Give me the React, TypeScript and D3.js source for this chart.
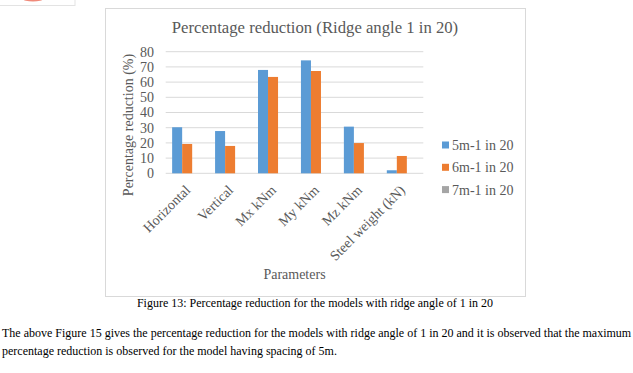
import React from "react";
import * as d3 from "d3";

const categories = ["Horizontal", "Vertical", "Mx kNm", "My kNm", "Mz kNm", "Steel weight (kN)"];
const seriesNames = ["5m-1 in 20", "6m-1 in 20", "7m-1 in 20"];
const values5m = [30.3, 27.8, 68.0, 74.3, 30.7, 2.0];
const values6m = [19.3, 18.0, 63.4, 67.3, 19.9, 11.4];
const values7m = [0, 0, 0, 0, 0, 0];
const yTicks = [0, 10, 20, 30, 40, 50, 60, 70, 80];

const colors = ["#5b9bd5", "#ed7d31", "#a5a5a5"];
const textColor = "#595959";
const font = "'Liberation Serif', 'Times New Roman', serif";

export default function App() {
  const series = [values5m, values6m, values7m];

  const plot = { left: 165.7, right: 423.3, top: 51.7, bottom: 173.3 };

  const x = d3
    .scaleBand<string>()
    .domain(categories)
    .range([plot.left, plot.right])
    .paddingInner(0.3)
    .paddingOuter(0.15);

  const x1 = d3
    .scaleBand<string>()
    .domain(seriesNames)
    .range([0, x.bandwidth()]);

  const y = d3.scaleLinear().domain([0, 80]).range([plot.bottom, plot.top]);

  return (
    <svg
      width={633}
      height={373}
      style={{ position: "absolute", left: 0, top: 0, background: "#fff" }}
      fontFamily={font}
    >
      {/* clipped logo box in the page corner */}
      <rect x={-1} y={-1} width={76} height={6.5} fill="#fff" stroke="#e3e3e3" />
      <ellipse cx={33} cy={-1} rx={10} ry={2.5} fill="#f08a7a" />

      {/* chart frame */}
      <rect x={105.5} y={8.5} width={420} height={288} fill="#fff" stroke="#d9d9d9" />

      <text x={315} y={33} textAnchor="middle" fontSize={16.7} fill={textColor}>
        Percentage reduction (Ridge angle 1 in 20)
      </text>

      {yTicks.map((t) => (
        <g key={t}>
          <line
            x1={plot.left}
            x2={plot.right}
            y1={y(t)}
            y2={y(t)}
            stroke="#d9d9d9"
            strokeWidth={1}
          />
          <text x={154} y={y(t) + 4.8} textAnchor="end" fontSize={14} fill={textColor}>
            {t}
          </text>
        </g>
      ))}

      {categories.map((c, i) => (
        <g key={c}>
          {series.map((vals, s) => (
            <rect
              key={s}
              x={(x(c) as number) + (x1(seriesNames[s]) as number)}
              y={y(vals[i])}
              width={x1.bandwidth()}
              height={plot.bottom - y(vals[i])}
              fill={colors[s]}
            />
          ))}
        </g>
      ))}

      {categories.map((c) => {
        const cx = (x(c) as number) + x.bandwidth() / 2 + 4;
        const cy = 191;
        return (
          <text
            key={c}
            x={cx}
            y={cy}
            textAnchor="end"
            fontSize={14}
            fill={textColor}
            transform={`rotate(-45, ${cx}, ${cy})`}
          >
            {c}
          </text>
        );
      })}

      <text
        x={0}
        y={0}
        textAnchor="middle"
        fontSize={14}
        fill={textColor}
        transform={`translate(133, 125) rotate(-90)`}
      >
        Percentage reduction (%)
      </text>

      <text x={294.5} y={279} textAnchor="middle" fontSize={14} fill={textColor}>
        Parameters
      </text>

      {seriesNames.map((n, i) => (
        <g key={n}>
          <rect x={442} y={141.5 + i * 22.3} width={7} height={7} fill={colors[i]} />
          <text x={452} y={150 + i * 22.3} fontSize={14} fill={textColor}>
            {n}
          </text>
        </g>
      ))}

      <text x={315} y={307} textAnchor="middle" fontSize={12} fill="#000">
        Figure 13: Percentage reduction for the models with ridge angle of 1 in 20
      </text>

      <text x={2} y={337} fontSize={12} fill="#000">
        The above Figure 15 gives the percentage reduction for the models with ridge angle of 1 in 20 and it is observed that the maximum
      </text>
      <text x={2} y={355} fontSize={12} fill="#000">
        percentage reduction is observed for the model having spacing of 5m.
      </text>
    </svg>
  );
}
